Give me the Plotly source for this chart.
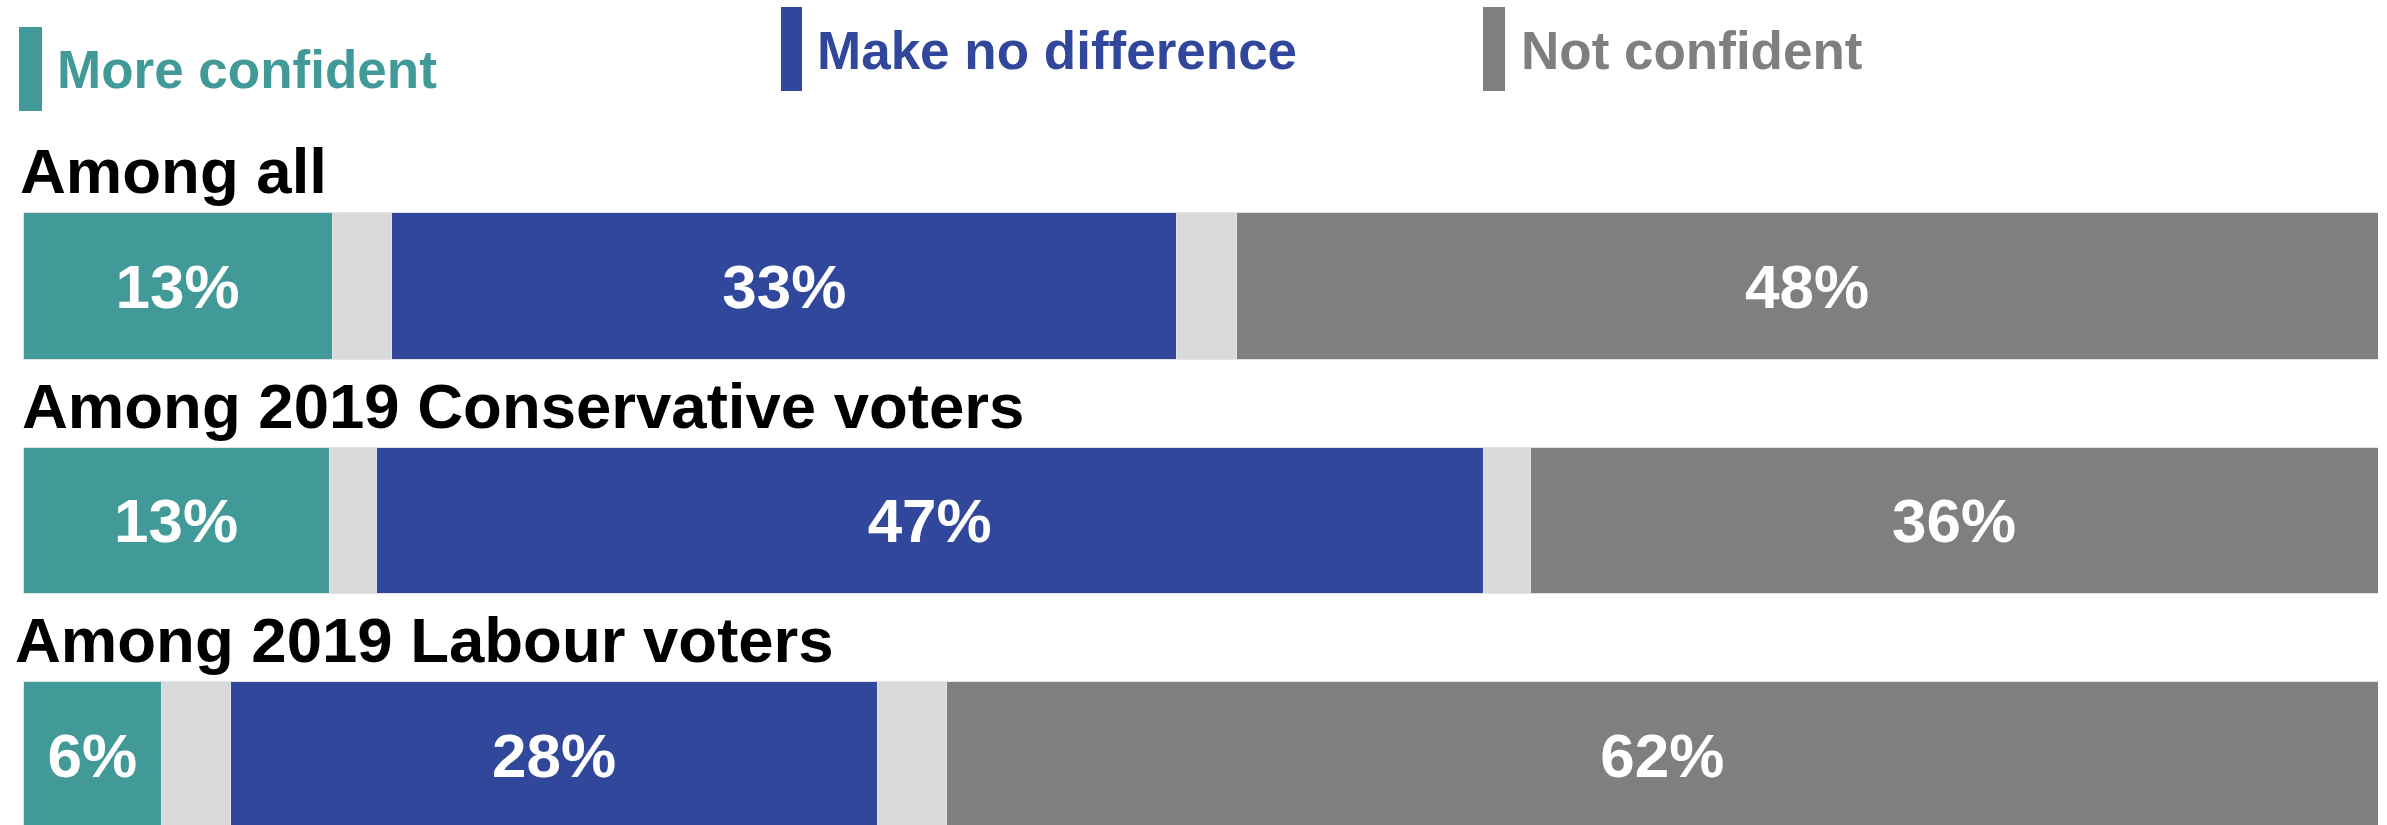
import plotly.graph_objects as go

# ---- data ----
groups = ["Among all", "Among 2019 Conservative voters", "Among 2019 Labour voters"]
more_confident = [13, 13, 6]
spacer_1 = [2.5, 2, 3]
no_difference = [33, 47, 28]
spacer_2 = [2.5, 2, 3]
not_confident = [48, 36, 62]
legend_labels = ["More confident", "Make no difference", "Not confident"]

# ---- style ----
FONT = "Liberation Sans, Arial, sans-serif"
TEAL = "#429A98"
BLUE = "#30479B"
DGRAY = "#7F7F7F"
LGRAY = "#D9D9D9"

W, H = 2387, 825
ML, MR = 23, 9
PW = W - ML - MR

def px_x(px):
    return (px - ML) / PW

def px_y(py):
    return 1 - py / H

rows = list(range(len(groups)))
BAR_W = 0.623

fig = go.Figure()
series = [
    (legend_labels[0], more_confident, TEAL, True),
    ("spacer1", spacer_1, LGRAY, False),
    (legend_labels[1], no_difference, BLUE, True),
    ("spacer2", spacer_2, LGRAY, False),
    (legend_labels[2], not_confident, DGRAY, True),
]
for name, vals, color, show_text in series:
    fig.add_trace(go.Bar(
        y=rows, x=vals, orientation="h", name=name, width=BAR_W,
        marker=dict(color=color, line=dict(color="#E4E4E4", width=1)),
        text=[f"{v}%" for v in vals] if show_text else None,
        textposition="inside", insidetextanchor="middle",
        constraintext="none",
        textfont=dict(color="white", size=62, family=FONT, weight="bold"),
        hoverinfo="skip", showlegend=False,
    ))

# row labels
label_x = [18, 20, 13]
for r, g, lx in zip(rows, groups, label_x):
    fig.add_annotation(
        text=g, xref="paper", yref="y", x=px_x(lx), y=r - BAR_W / 2 - 0.02,
        xanchor="left", yanchor="bottom", showarrow=False,
        font=dict(family=FONT, size=63.5, color="black", weight="bold"),
    )

# custom legend
legend_items = [
    (legend_labels[0], TEAL, (19, 42, 27, 111), (55, 101)),
    (legend_labels[1], BLUE, (781, 802, 7, 91), (815, 82)),
    (legend_labels[2], DGRAY, (1483, 1505, 7, 91), (1519, 82)),
]
for lab, col, (x0, x1, y0, y1), (tx, ty) in legend_items:
    fig.add_shape(type="rect", xref="paper", yref="paper",
                  x0=px_x(x0), x1=px_x(x1), y0=px_y(y1), y1=px_y(y0),
                  fillcolor=col, line=dict(width=0))
    fig.add_annotation(
        text=lab, xref="paper", yref="paper", x=px_x(tx), y=px_y(ty),
        xanchor="left", yanchor="bottom", showarrow=False,
        font=dict(family=FONT, size=53, color=col, weight="bold"),
    )

fig.update_layout(
    width=W, height=H,
    barmode="stack", barnorm="percent",
    margin=dict(l=ML, r=MR, t=0, b=0, pad=0),
    plot_bgcolor="white", paper_bgcolor="white",
    xaxis=dict(range=[0, 100], visible=False, fixedrange=True),
    yaxis=dict(range=[2.2985, -1.2196], visible=False, fixedrange=True),
    showlegend=False,
)

fig.write_html("out.html", config={"displayModeBar": False},
               post_script="document.body.style.margin='0';document.body.style.overflow='hidden';")
